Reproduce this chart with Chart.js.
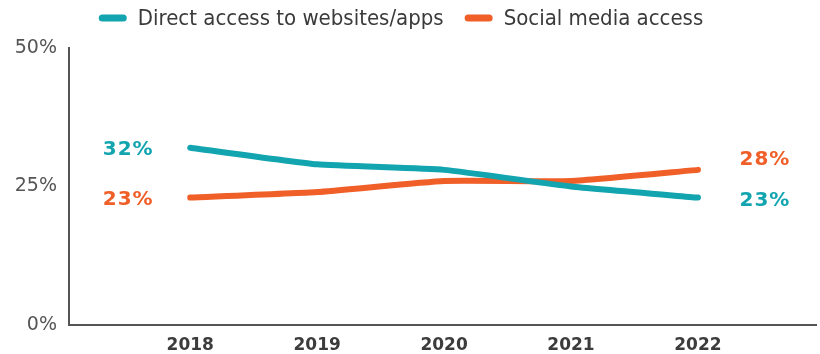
<!DOCTYPE html>
<html lang="en">
<head>
<meta charset="UTF-8">
<title>Direct vs social media access</title>
<script src="https://cdn.jsdelivr.net/npm/chart.js"></script>
<style>
  html, body { margin: 0; padding: 0; background: #fff; }
  #wrap { width: 820px; height: 354px; position: relative; }
</style>
</head>
<body>
<div id="wrap"><canvas id="accessChart"></canvas></div>
<script>
// values per year, in percent
const years = [2018, 2019, 2020, 2021, 2022];
const directAccess = [32, 29, 28, 25, 23];
const socialAccess = [23, 24, 26, 26, 28];
const seriesNames = ['Direct access to websites/apps', 'Social media access'];
const yTicks = [0, 25, 50];

const TEAL = '#12a5b0';
const ORANGE = '#f05f28';

// legend drawn by hand so the gap between items can differ from the row padding
const topLegend = {
  id: 'topLegend',
  afterDraw(chart) {
    const ctx = chart.ctx;
    ctx.save();
    ctx.font = '22px "DejaVu Sans Condensed", "DejaVu Sans", sans-serif';
    ctx.textBaseline = 'middle';
    const sw = 28, sh = 7, gap = 11, itemGap = 21;
    const items = chart.data.datasets.map(ds => ({ text: ds.label, color: ds.borderColor, w: ctx.measureText(ds.label).width }));
    const total = items.reduce((s, it) => s + sw + gap + it.w, 0) + itemGap * (items.length - 1);
    let x = 401 - total / 2;
    const y = 18;
    items.forEach(it => {
      ctx.fillStyle = it.color;
      ctx.beginPath();
      ctx.roundRect(x, y - sh / 2, sw, sh, sh / 2);
      ctx.fill();
      ctx.fillStyle = '#3a3a3a';
      ctx.fillText(it.text, x + sw + gap, y + 1);
      x += sw + gap + it.w + itemGap;
    });
    ctx.restore();
  }
};

// first and last value printed beside each line
const endLabels = {
  id: 'endLabels',
  afterDatasetsDraw(chart) {
    const ctx = chart.ctx;
    const rightShift = [3, -10];
    ctx.save();
    ctx.font = 'bold 20px "DejaVu Sans", sans-serif';
    ctx.letterSpacing = '1px';
    ctx.textAlign = 'center';
    ctx.textBaseline = 'middle';
    chart.data.datasets.forEach((ds, i) => {
      const pts = chart.getDatasetMeta(i).data;
      const n = ds.data.length;
      ctx.fillStyle = ds.borderColor;
      ctx.fillText(ds.data[0].y + '%', pts[0].x - 62, pts[0].y + 2);
      ctx.fillText(ds.data[n - 1].y + '%', pts[n - 1].x + 67, pts[n - 1].y + rightShift[i]);
    });
    ctx.restore();
  }
};

new Chart(document.getElementById('accessChart'), {
  type: 'line',
  data: {
    datasets: [
      {
        label: seriesNames[0],
        data: years.map((y, i) => ({ x: y, y: directAccess[i] })),
        borderColor: TEAL,
        backgroundColor: TEAL
      },
      {
        label: seriesNames[1],
        data: years.map((y, i) => ({ x: y, y: socialAccess[i] })),
        borderColor: ORANGE,
        backgroundColor: ORANGE
      }
    ]
  },
  options: {
    responsive: true,
    maintainAspectRatio: false,
    animation: false,
    layout: { padding: { top: 48, right: 4, left: 0, bottom: 0 } },
    elements: {
      line: { borderWidth: 6, borderCapStyle: 'round', borderJoinStyle: 'round', tension: 0.15 },
      point: { radius: 0, hoverRadius: 0 }
    },
    plugins: {
      legend: { display: false },
      tooltip: { enabled: false }
    },
    scales: {
      x: {
        type: 'linear',
        min: 2017.045,
        max: 2022.93,
        grid: { display: false, drawTicks: false },
        border: { color: '#555', width: 2 },
        afterBuildTicks: s => { s.ticks = years.map(v => ({ value: v })); },
        afterFit: s => { s.height = 29; },
        ticks: {
          padding: 10,
          color: '#3c3c3c',
          font: { family: '"DejaVu Sans", sans-serif', size: 17, weight: '600' },
          callback: v => String(v)
        }
      },
      y: {
        min: 0,
        max: 50,
        grid: { display: false, drawTicks: false },
        border: { color: '#555', width: 2 },
        afterBuildTicks: s => { s.ticks = yTicks.map(v => ({ value: v })); },
        afterFit: s => { s.width = 69; },
        ticks: {
          padding: 12,
          color: '#555',
          font: { family: '"DejaVu Sans", sans-serif', size: 19 },
          callback: v => v + '%'
        }
      }
    }
  },
  plugins: [topLegend, endLabels]
});
</script>
</body>
</html>
